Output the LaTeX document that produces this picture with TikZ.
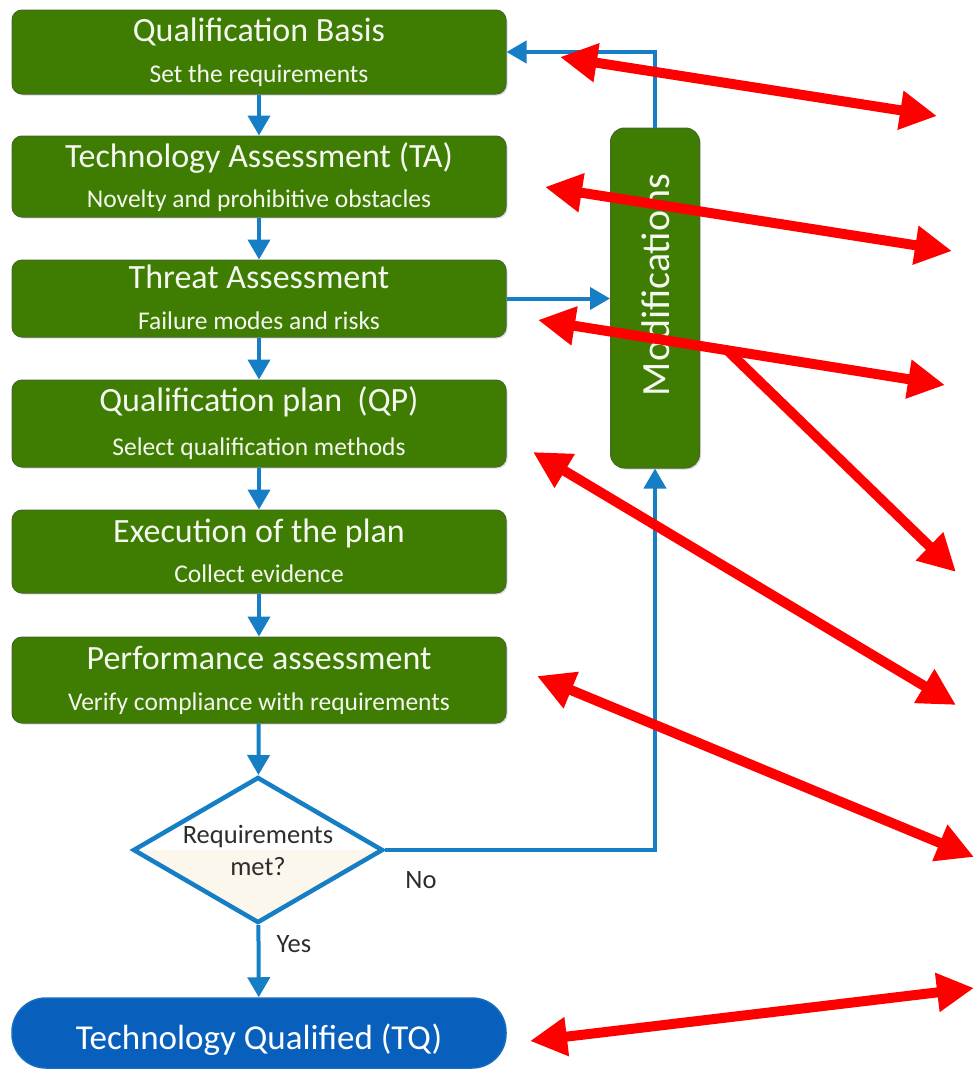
\documentclass[tikz,border=0pt]{standalone}
\usepackage{fontspec}
\setmainfont{Carlito}
\usetikzlibrary{arrows.meta,shapes.geometric,calc,shadows}

\definecolor{stepgreen}{RGB}{62,124,2}
\definecolor{stepedge}{RGB}{70,105,40}
\definecolor{flowblue}{RGB}{22,126,196}
\definecolor{tqblue}{RGB}{8,96,188}
\definecolor{tqedge}{RGB}{20,110,190}
\definecolor{creamfill}{RGB}{252,247,236}
\definecolor{textgray}{RGB}{45,45,45}
\definecolor{callred}{RGB}{255,0,0}
\definecolor{boxtext}{RGB}{245,248,240}

\begin{document}
\begin{tikzpicture}[x=1pt,y=-1pt,
  greenbox/.style={fill=stepgreen, draw=stepedge, line width=1pt,
    rounded corners=10pt, minimum width=494pt, inner sep=0pt,
    drop shadow={shadow xshift=1.5pt, shadow yshift=-1.5pt, fill=black, opacity=0.15}},
  titletext/.style={text=boxtext, font=\fontsize{34}{38}\selectfont, inner sep=0pt, anchor=base},
  subtext/.style={text=boxtext, font=\fontsize{25.5}{29}\selectfont, inner sep=0pt, anchor=base},
  dtext/.style={text=textgray, font=\fontsize{26.5}{30}\selectfont, inner sep=0pt, anchor=base},
  flow/.style={draw=flowblue, line width=4pt, -{Triangle[length=20pt,width=22pt]}},
  callout/.style={draw=callred, line width=10pt,
    {Triangle[length=37pt,width=37pt]}-{Triangle[length=37pt,width=37pt]}},
  calloutone/.style={draw=callred, line width=10pt, -{Triangle[length=37pt,width=37pt]}}
]
\fill[white] (0,0) rectangle (976,1071);
\useasboundingbox (0,0) rectangle (976,1071);

% process steps
\node[greenbox, minimum height=84pt] (qb) at (259,52) {};
\node[greenbox, minimum height=81pt] (ta) at (259,176.5) {};
\node[greenbox, minimum height=77pt] (th) at (259,298.5) {};
\node[greenbox, minimum height=87pt] (qp) at (259,423.5) {};
\node[greenbox, minimum height=83pt] (ex) at (259,551.5) {};
\node[greenbox, minimum height=86pt] (pa) at (259,680) {};

% modifications loop box
\node[greenbox, minimum width=89pt, minimum height=340pt, rounded corners=14pt] (mod) at (655,298) {};

% decision
\node[diamond, draw=flowblue, line width=4.5pt, minimum width=250pt, minimum height=146pt,
  aspect=1.72, inner sep=0pt, fill=white,
  path picture={\fill[creamfill] (path picture bounding box.west) rectangle (path picture bounding box.south east);}]
  (dec) at (258,850) {};

% end state
\node[fill=tqblue, draw=tqedge, line width=1.5pt, rounded corners=34pt,
  minimum width=494pt, minimum height=70pt] (tq) at (259,1033) {};

% flow connectors
\draw[flow] (qb) -- (ta);
\draw[flow] (ta) -- (th);
\draw[flow] (th) -- (qp);
\draw[flow] (qp) -- (ex);
\draw[flow] (ex) -- (pa);
\draw[flow] (pa) -- (dec);
\draw[flow] (dec) -- (tq);
\draw[flow] (th.east) -- (th.east -| mod.west);
\draw[flow] (mod.north) |- (qb.east);
\draw[flow] (dec.east) -| (mod.south);

% texts
\node[titletext] (qbT) at (259,41) {Qualification Basis};
\node[subtext]   (qbS) at (259,82) {Set the requirements};
\node[titletext] (taT) at (259,167) {Technology Assessment (TA)};
\node[subtext]   (taS) at (259,207) {Novelty and prohibitive obstacles};
\node[titletext] (thT) at (259,288) {Threat Assessment};
\node[subtext]   (thS) at (259,329) {Failure modes and risks};
\node[titletext] (qpT) at (259,411) {Qualification plan\ \ (QP)};
\node[subtext]   (qpS) at (259,455) {Select qualification methods};
\node[titletext] (exT) at (259,542) {Execution of the plan};
\node[subtext]   (exS) at (259,582) {Collect evidence};
\node[titletext] (paT) at (259,669) {Performance assessment};
\node[subtext]   (paS) at (259,710) {Verify compliance with requirements};

\node[rotate=90, text=boxtext, font=\fontsize{40}{44}\selectfont, inner sep=0pt] (modT) at (656,285) {Modifications};

\node[dtext] (decA) at (258,843) {Requirements};
\node[dtext] (decB) at (258,875) {met?};
\node[dtext] (no)   at (421,888) {No};
\node[dtext] (yes)  at (294,952) {Yes};

\node[text=white, font=\fontsize{35}{40}\selectfont, inner sep=0pt, anchor=base] (tqT) at (259,1049) {Technology Qualified (TQ)};

% red callout arrows
\coordinate (r1a) at (560,57);  \coordinate (r1b) at (937,116);
\coordinate (r2a) at (545,187); \coordinate (r2b) at (952,251);
\coordinate (r3a) at (538,320); \coordinate (r3b) at (945,385);
\coordinate (r4a) at ($(r3a)!0.465!(r3b)$); \coordinate (r4b) at (956,572);
\coordinate (r5a) at (533,452); \coordinate (r5b) at (956,705);
\coordinate (r6a) at (537,676); \coordinate (r6b) at (974,857);
\coordinate (r7a) at (530,1041); \coordinate (r7b) at (974,988);

\draw[callout] (r1a) -- (r1b);
\draw[callout] (r2a) -- (r2b);
\draw[callout] (r3a) -- (r3b);
\draw[calloutone] (r4a) -- (r4b);
\draw[callout] (r5a) -- (r5b);
\draw[callout] (r6a) -- (r6b);
\draw[callout] (r7a) -- (r7b);
\end{tikzpicture}
\end{document}
